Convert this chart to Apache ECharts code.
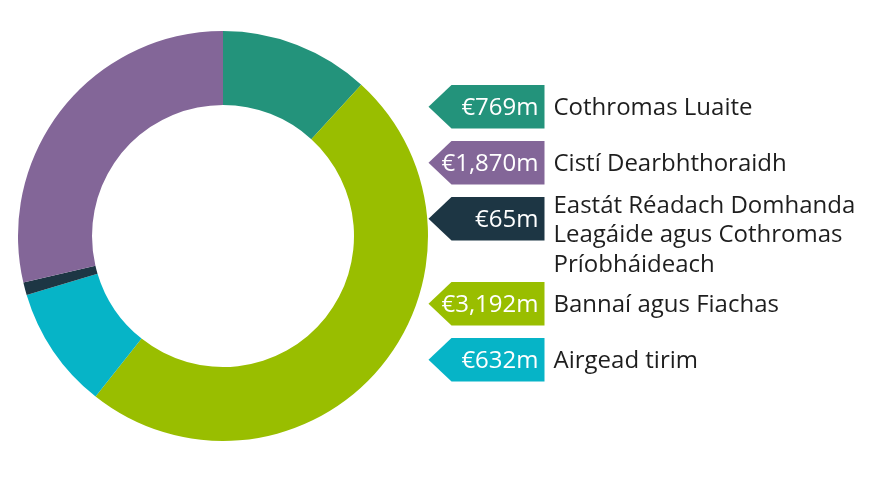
<!DOCTYPE html>
<html>
<head>
<meta charset="utf-8">
<script src="https://cdn.jsdelivr.net/npm/echarts@6/dist/echarts.min.js"></script>
<style>
html,body{margin:0;padding:0;background:#fff;}
#chart{width:896px;height:484px;}
</style>
</head>
<body>
<div id="chart"></div>
<script>
// Ring order (clockwise from top)
const ringNames = ['Cothromas Luaite', 'Bannaí agus Fiachas', 'Airgead tirim', 'Eastát Réadach Domhanda Leagáide agus Cothromas Príobháideach', 'Cistí Dearbhthoraidh'];
const ringValues = [769, 3192, 632, 65, 1870];
const ringColors = ['#23937B', '#99BE00', '#06B4C7', '#1D3644', '#836698'];

// Legend order (top to bottom)
const legendValueText = ['€769m', '€1,870m', '€65m', '€3,192m', '€632m'];
const legendLabelLines = [
  ['Cothromas Luaite'],
  ['Cistí Dearbhthoraidh'],
  ['Eastát Réadach Domhanda', 'Leagáide agus Cothromas', 'Príobháideach'],
  ['Bannaí agus Fiachas'],
  ['Airgead tirim']
];
const legendColors = ['#23937B', '#836698', '#1D3644', '#99BE00', '#06B4C7'];

const FONT = '"Open Sans", "Noto Sans", sans-serif';
const chart = echarts.init(document.getElementById('chart'), null, {renderer: 'canvas'});

const tagH = 43.5, tagW = 116, tipW = 23, lineH = 29.3;
const graphics = [];
let tagTop = 85;
legendValueText.forEach((v, i) => {
  const lines = legendLabelLines[i];
  const cy = tagH / 2;
  const children = [
    {type: 'polygon', shape: {points: [[0, cy], [tipW, 0], [tagW, 0], [tagW, tagH], [tipW, tagH]]}, style: {fill: legendColors[i]}},
    {type: 'text', x: tagW - 6, y: cy + 1, style: {text: v, fill: '#fff', font: '24px ' + FONT, textAlign: 'right', textVerticalAlign: 'middle'}}
  ];
  if (lines.length === 1) {
    children.push({type: 'text', x: tagW + 9, y: cy + 1, style: {text: lines[0], fill: '#1e1e1e', font: '500 24px ' + FONT, textAlign: 'left', textVerticalAlign: 'middle'}});
  } else {
    children.push({type: 'text', x: tagW + 9, y: cy + 2 - lineH, style: {text: lines.join('\n'), fill: '#1e1e1e', font: '500 24px ' + FONT, lineHeight: lineH, textAlign: 'left', textVerticalAlign: 'top'}});
  }
  graphics.push({type: 'group', x: 428.5, y: tagTop, children});
  tagTop += 56 + (lines.length > 1 ? 29 : 0);
});

chart.setOption({
  backgroundColor: '#fff',
  animation: false,
  series: [{
    type: 'pie',
    center: [223, 236],
    radius: [131, 205],
    startAngle: 90,
    clockwise: true,
    silent: true,
    label: {show: false},
    labelLine: {show: false},
    data: ringNames.map((n, i) => ({name: n, value: ringValues[i], itemStyle: {color: ringColors[i]}}))
  }],
  graphic: graphics
});
</script>
</body>
</html>
